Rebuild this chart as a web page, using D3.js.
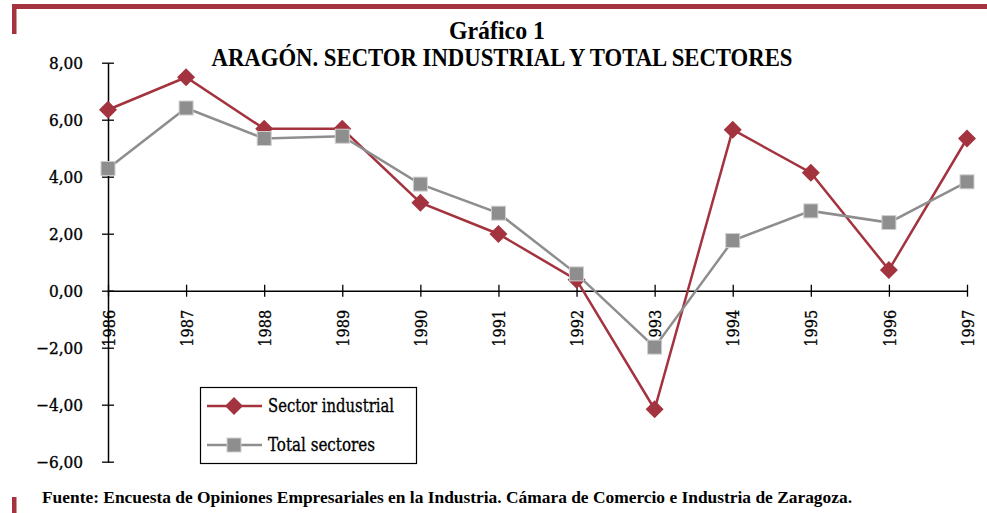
<!DOCTYPE html>
<html>
<head>
<meta charset="utf-8">
<script src="https://cdn.jsdelivr.net/npm/d3@7"></script>
<style>
  html, body { margin: 0; padding: 0; background: #fff; }
  svg { display: block; font-family: "Liberation Serif", "DejaVu Serif", serif; }
</style>
</head>
<body>
<svg id="chart" width="987" height="513"></svg>
<script>
// Years on the horizontal axis
const years = ["1986", "1987", "1988", "1989", "1990", "1991", "1992", "1993", "1994", "1995", "1996", "1997"];
// Industrial sector series
const sectorIndustrial = [6.35, 7.49, 5.68, 5.68, 3.09, 1.99, 0.38, -4.16, 5.65, 4.14, 0.73, 5.34];
// All-sector series
const totalSectores = [4.29, 6.41, 5.34, 5.42, 3.74, 2.72, 0.59, -1.98, 1.76, 2.80, 2.39, 3.82];
// Value-axis ticks
const yTicks = [8, 6, 4, 2, 0, -2, -4, -6];
const seriesNames = ["Sector industrial", "Total sectores"];

const RED = "#a3343f";
const GREY = "#8e8e8e";
const LABEL_FONT = "'DejaVu Serif Condensed', 'DejaVu Serif', serif";

const svg = d3.select("#chart");

const x = d3.scalePoint().domain(years).range([108, 967]);
const y = d3.scaleLinear().domain([-6, 8]).range([461.7, 62.7]);
const fmt = v => d3.format(".2f")(v).replace(".", ",").replace("-", "\u2212");

// Frame decorations
svg.append("rect").attr("x", 12).attr("y", 4).attr("width", 975).attr("height", 5).attr("fill", RED);
svg.append("rect").attr("x", 12).attr("y", 4).attr("width", 4.5).attr("height", 30).attr("fill", RED);
svg.append("rect").attr("x", 12).attr("y", 497).attr("width", 4.5).attr("height", 16).attr("fill", RED);

// Titles
svg.append("text").attr("x", 497).attr("y", 39).attr("text-anchor", "middle")
  .attr("font-size", 25).attr("font-weight", "bold")
  .attr("textLength", 96).attr("lengthAdjust", "spacingAndGlyphs")
  .text("Gráfico 1");
svg.append("text").attr("x", 502).attr("y", 66).attr("text-anchor", "middle")
  .attr("font-size", 25).attr("font-weight", "bold")
  .attr("textLength", 581).attr("lengthAdjust", "spacingAndGlyphs")
  .text("ARAGÓN. SECTOR INDUSTRIAL Y TOTAL SECTORES");

// Y axis
const yAxis = d3.axisLeft(y).tickValues(yTicks).tickSizeInner(6).tickSizeOuter(0).tickFormat(fmt);
const gy = svg.append("g").attr("transform", `translate(${x(years[0])},0)`).call(yAxis);
gy.select(".domain").attr("stroke", "#000").attr("stroke-width", 1.5);
gy.selectAll(".tick line").attr("x1", -6).attr("x2", 6).attr("stroke", "#000").attr("stroke-width", 1.3);
gy.selectAll(".tick text").attr("x", -25).attr("dy", "0.36em")
  .attr("font-size", 17).attr("font-family", LABEL_FONT).attr("fill", "#000")
  .attr("stroke", "#000").attr("stroke-width", 0.35);

// X axis at zero
const xAxis = d3.axisBottom(x).tickSizeInner(6).tickSizeOuter(0);
const gx = svg.append("g").attr("transform", `translate(0,${y(0)})`).call(xAxis);
gx.select(".domain").attr("stroke", "#000").attr("stroke-width", 1.5);
gx.selectAll(".tick line").attr("y1", -6).attr("y2", 6).attr("stroke", "#000").attr("stroke-width", 1.3);
gx.selectAll(".tick text")
  .attr("transform", "rotate(-90)")
  .attr("x", -19).attr("y", 0).attr("dy", "0.36em")
  .attr("text-anchor", "end")
  .attr("font-size", 17).attr("font-family", LABEL_FONT).attr("fill", "#000")
  .attr("stroke", "#000").attr("stroke-width", 0.3)
  .attr("textLength", 37).attr("lengthAdjust", "spacingAndGlyphs");

// Markers
const diamondPath = s => `M0,${-s}L${s},0L0,${s}L${-s},0Z`;
const drawSeries = (values, color, kind) => {
  const pts = values.map((v, i) => [x(years[i]), y(v)]);
  svg.append("path").attr("d", d3.line()(pts))
    .attr("fill", "none").attr("stroke", color).attr("stroke-width", 2.5);
  const g = svg.append("g");
  pts.forEach(p => {
    if (kind === "diamond") {
      g.append("path").attr("d", diamondPath(9)).attr("transform", `translate(${p[0]},${p[1]})`)
        .attr("fill", color);
    } else {
      g.append("rect").attr("x", p[0] - 7).attr("y", p[1] - 7).attr("width", 14).attr("height", 14)
        .attr("fill", color).attr("stroke", "#cfcfcf").attr("stroke-width", 1);
    }
  });
};
drawSeries(sectorIndustrial, RED, "diamond");
drawSeries(totalSectores, GREY, "square");

// Legend
const lg = svg.append("g");
lg.append("rect").attr("x", 200.5).attr("y", 387.5).attr("width", 216).attr("height", 76)
  .attr("fill", "#fff").attr("stroke", "#000").attr("stroke-width", 1.2);
const legendRows = [
  { name: seriesNames[0], color: RED, kind: "diamond", cy: 406, len: 126 },
  { name: seriesNames[1], color: GREY, kind: "square", cy: 445, len: 107 }
];
legendRows.forEach(r => {
  lg.append("line").attr("x1", 207).attr("x2", 262).attr("y1", r.cy).attr("y2", r.cy)
    .attr("stroke", r.color).attr("stroke-width", 2.5);
  if (r.kind === "diamond") {
    lg.append("path").attr("d", diamondPath(9)).attr("transform", `translate(234,${r.cy})`).attr("fill", r.color);
  } else {
    lg.append("rect").attr("x", 227).attr("y", r.cy - 7).attr("width", 14).attr("height", 14)
      .attr("fill", r.color).attr("stroke", "#cfcfcf");
  }
  lg.append("text").attr("x", 268).attr("y", r.cy).attr("dy", "0.36em")
    .attr("font-size", 18).attr("font-family", LABEL_FONT).attr("fill", "#000")
    .attr("stroke", "#000").attr("stroke-width", 0.3)
    .attr("textLength", r.len).attr("lengthAdjust", "spacingAndGlyphs")
    .text(r.name);
});

// Source note
svg.append("text").attr("x", 42).attr("y", 503)
  .attr("font-size", 16).attr("font-weight", "bold")
  .attr("textLength", 810).attr("lengthAdjust", "spacingAndGlyphs")
  .text("Fuente: Encuesta de Opiniones Empresariales en la Industria. Cámara de Comercio e Industria de Zaragoza.");
</script>
</body>
</html>
